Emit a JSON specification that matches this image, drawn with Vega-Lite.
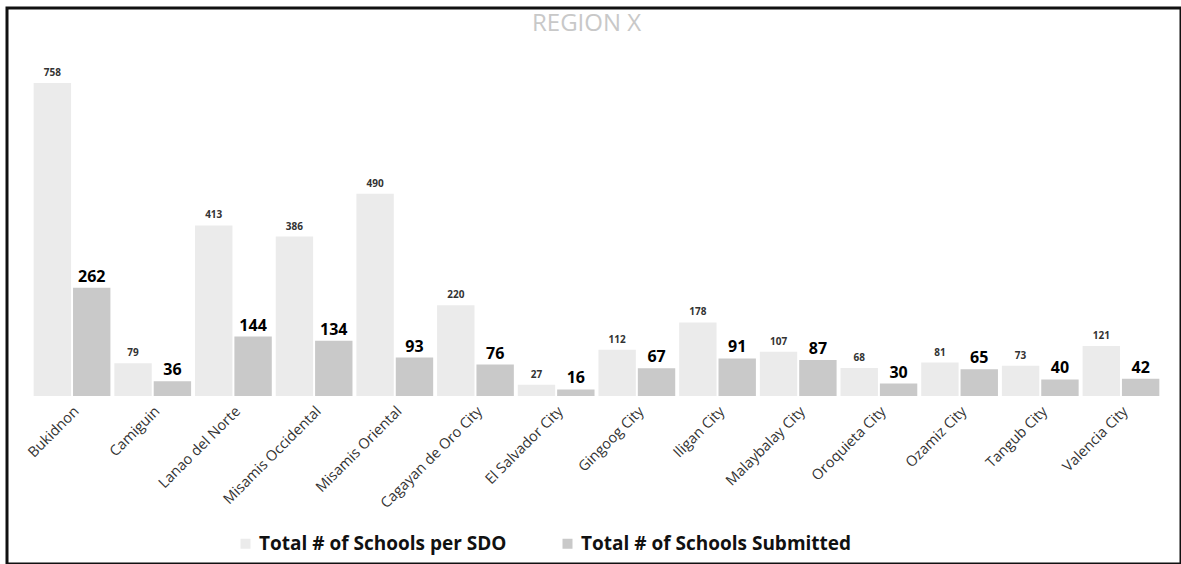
{
  "$schema": "https://vega.github.io/schema/vega-lite/v6.json",
  "width": 1174,
  "height": 556,
  "autosize": {"type": "none"},
  "padding": {"left": 7, "top": 8, "right": 0, "bottom": 0},
  "background": "white",
  "title": {"text": "REGION X", "color": "#c8c8c8", "fontSize": 24, "font": "Open Sans", "fontWeight": "normal", "offset": -28, "anchor": "start", "dx": 525},
  "config": {"view": {"stroke": "#111", "strokeWidth": 3}},
  "data": {"values": [
    {"sdo": "Bukidnon", "series": "Total # of Schools per SDO", "value": 758},
    {"sdo": "Bukidnon", "series": "Total # of Schools Submitted", "value": 262},
    {"sdo": "Camiguin", "series": "Total # of Schools per SDO", "value": 79},
    {"sdo": "Camiguin", "series": "Total # of Schools Submitted", "value": 36},
    {"sdo": "Lanao del Norte", "series": "Total # of Schools per SDO", "value": 413},
    {"sdo": "Lanao del Norte", "series": "Total # of Schools Submitted", "value": 144},
    {"sdo": "Misamis Occidental", "series": "Total # of Schools per SDO", "value": 386},
    {"sdo": "Misamis Occidental", "series": "Total # of Schools Submitted", "value": 134},
    {"sdo": "Misamis Oriental", "series": "Total # of Schools per SDO", "value": 490},
    {"sdo": "Misamis Oriental", "series": "Total # of Schools Submitted", "value": 93},
    {"sdo": "Cagayan de Oro City", "series": "Total # of Schools per SDO", "value": 220},
    {"sdo": "Cagayan de Oro City", "series": "Total # of Schools Submitted", "value": 76},
    {"sdo": "El Salvador City", "series": "Total # of Schools per SDO", "value": 27},
    {"sdo": "El Salvador City", "series": "Total # of Schools Submitted", "value": 16},
    {"sdo": "Gingoog City", "series": "Total # of Schools per SDO", "value": 112},
    {"sdo": "Gingoog City", "series": "Total # of Schools Submitted", "value": 67},
    {"sdo": "Iligan City", "series": "Total # of Schools per SDO", "value": 178},
    {"sdo": "Iligan City", "series": "Total # of Schools Submitted", "value": 91},
    {"sdo": "Malaybalay City", "series": "Total # of Schools per SDO", "value": 107},
    {"sdo": "Malaybalay City", "series": "Total # of Schools Submitted", "value": 87},
    {"sdo": "Oroquieta City", "series": "Total # of Schools per SDO", "value": 68},
    {"sdo": "Oroquieta City", "series": "Total # of Schools Submitted", "value": 30},
    {"sdo": "Ozamiz City", "series": "Total # of Schools per SDO", "value": 81},
    {"sdo": "Ozamiz City", "series": "Total # of Schools Submitted", "value": 65},
    {"sdo": "Tangub City", "series": "Total # of Schools per SDO", "value": 73},
    {"sdo": "Tangub City", "series": "Total # of Schools Submitted", "value": 40},
    {"sdo": "Valencia City", "series": "Total # of Schools per SDO", "value": 121},
    {"sdo": "Valencia City", "series": "Total # of Schools Submitted", "value": 42}
  ]},
  "encoding": {
    "x": {"field": "sdo", "type": "nominal", "sort": null,
      "scale": {"range": [24.7, 1154.3], "paddingInner": 0, "paddingOuter": 0},
      "axis": {"title": null, "labelAngle": -45, "labelFontSize": 14.5, "labelColor": "#333", "labelFont": "Open Sans", "ticks": false, "domain": false, "offset": -166, "labelPadding": 6, "labelLimit": 0}},
    "xOffset": {"field": "series", "sort": ["Total # of Schools per SDO", "Total # of Schools Submitted"], "scale": {"paddingInner": 0.05, "paddingOuter": 0.05}},
    "y": {"field": "value", "type": "quantitative", "scale": {"domain": [-406.8, 939.5], "nice": false, "zero": false}, "axis": null}
  },
  "layer": [
    {"mark": {"type": "bar"},
     "encoding": {
       "y2": {"datum": 0},
       "color": {"field": "series", "type": "nominal", "sort": ["Total # of Schools per SDO", "Total # of Schools Submitted"],
         "scale": {"range": ["#ebebeb", "#c9c9c9"]},
         "legend": {"orient": "none", "legendX": 229, "legendY": 526, "direction": "horizontal", "title": null, "labelFontSize": 19, "labelFontWeight": "bold", "labelFont": "Open Sans", "labelColor": "#111", "symbolType": "square", "symbolSize": 100, "columnPadding": 51, "labelLimit": 0}}
     }},
    {"transform": [{"filter": "datum.series == 'Total # of Schools per SDO'"}],
     "mark": {"type": "text", "baseline": "bottom", "dy": -5, "fontSize": 10, "fontWeight": "bold", "font": "Open Sans", "color": "#333"},
     "encoding": {"text": {"field": "value", "type": "quantitative"}}},
    {"transform": [{"filter": "datum.series == 'Total # of Schools Submitted'"}],
     "mark": {"type": "text", "baseline": "bottom", "dy": -3, "fontSize": 16, "fontWeight": "bold", "font": "Open Sans", "color": "#000"},
     "encoding": {"text": {"field": "value", "type": "quantitative"}}}
  ]
}
